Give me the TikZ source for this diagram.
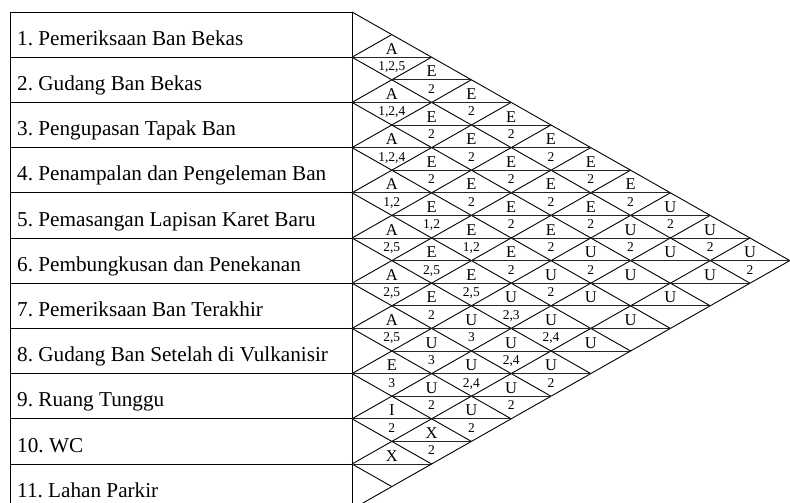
\documentclass[tikz,border=0pt]{standalone}
\usepackage{fontspec}
\setmainfont{Liberation Serif}
\frenchspacing
\newcommand\arcXL{352}
\newcommand\arcYT{12}
\newcommand\arcRH{45.2}
\newcommand\arcRD{39.8}
\newcommand\arcpair[4]{%
  \node[relletter] (L#1-#2) at ({\arcXL+(#2-#1)*\arcRD}, {\arcYT+(#1+#2-1)*\arcRH/2-3}) {#3};
  \node[relnum] (N#1-#2) at ({\arcXL+(#2-#1)*\arcRD}, {\arcYT+(#1+#2-1)*\arcRH/2+13.5}) {#4};}
\begin{document}
\begin{tikzpicture}[x=1pt,y=-1pt,
  lbl/.style={anchor=base west, font=\fontsize{21.2}{24}\selectfont\frenchspacing, inner sep=0pt},
  relletter/.style={anchor=base, font=\fontsize{16.5}{18}\selectfont, inner sep=0pt},
  relnum/.style={anchor=base, font=\fontsize{13.5}{15}\selectfont, inner sep=0pt},
  frame/.style={line width=0.9pt},
  diag/.style={line width=0.9pt},
  midline/.style={line width=0.75pt, black!85}]
\useasboundingbox (0,0) rectangle (790,503);
\clip (0,0) rectangle (790,503);
% table
\draw[frame] (10,\arcYT) rectangle (\arcXL,{\arcYT+11*\arcRH});
\foreach \m in {1,...,10} \draw[frame] (10,{\arcYT+\m*\arcRH}) -- (\arcXL,{\arcYT+\m*\arcRH});
% labels
\foreach \m/\t in {1/{1. Pemeriksaan Ban Bekas},2/{2. Gudang Ban Bekas},3/{3. Pengupasan Tapak Ban},4/{4. Penampalan dan Pengeleman Ban},5/{5. Pemasangan Lapisan Karet Baru},6/{6. Pembungkusan dan Penekanan},7/{7. Pemeriksaan Ban Terakhir},8/{8. Gudang Ban Setelah di Vulkanisir},9/{9. Ruang Tunggu},10/{10. WC},11/{11. Lahan Parkir}}
  \node[lbl] (lab\m) at (17,{\arcYT+\m*\arcRH-12}) {\t};
% diagonals
\foreach \m in {0,...,10}
  \draw[diag] (\arcXL,{\arcYT+\m*\arcRH}) -- ++({(11-\m)*\arcRD},{(11-\m)*\arcRH/2});
\foreach \m in {1,...,11}
  \draw[diag] (\arcXL,{\arcYT+\m*\arcRH}) -- ++({\m*\arcRD},{-\m*\arcRH/2});
% mid lines
\foreach \i in {1,...,10}{
  \pgfmathtruncatemacro\jmin{\i+1}
  \foreach \j in {\jmin,...,11}
    \draw[midline] ({\arcXL+(\j-\i-1)*\arcRD},{\arcYT+(\i+\j-1)*\arcRH/2}) -- ++({2*\arcRD},0);
}
% relationships
\arcpair{1}{2}{A}{1,2,5}
\arcpair{1}{3}{E}{2}
\arcpair{1}{4}{E}{2}
\arcpair{1}{5}{E}{2}
\arcpair{1}{6}{E}{2}
\arcpair{1}{7}{E}{2}
\arcpair{1}{8}{E}{2}
\arcpair{1}{9}{U}{2}
\arcpair{1}{10}{U}{2}
\arcpair{1}{11}{U}{2}
\arcpair{2}{3}{A}{1,2,4}
\arcpair{2}{4}{E}{2}
\arcpair{2}{5}{E}{2}
\arcpair{2}{6}{E}{2}
\arcpair{2}{7}{E}{2}
\arcpair{2}{8}{E}{2}
\arcpair{2}{9}{U}{2}
\arcpair{2}{10}{U}{}
\arcpair{2}{11}{U}{}
\arcpair{3}{4}{A}{1,2,4}
\arcpair{3}{5}{E}{2}
\arcpair{3}{6}{E}{2}
\arcpair{3}{7}{E}{2}
\arcpair{3}{8}{E}{2}
\arcpair{3}{9}{U}{2}
\arcpair{3}{10}{U}{}
\arcpair{3}{11}{U}{}
\arcpair{4}{5}{A}{1,2}
\arcpair{4}{6}{E}{1,2}
\arcpair{4}{7}{E}{1,2}
\arcpair{4}{8}{E}{2}
\arcpair{4}{9}{U}{2}
\arcpair{4}{10}{U}{}
\arcpair{4}{11}{U}{}
\arcpair{5}{6}{A}{2,5}
\arcpair{5}{7}{E}{2,5}
\arcpair{5}{8}{E}{2,5}
\arcpair{5}{9}{U}{2,3}
\arcpair{5}{10}{U}{2,4}
\arcpair{5}{11}{U}{}
\arcpair{6}{7}{A}{2,5}
\arcpair{6}{8}{E}{2}
\arcpair{6}{9}{U}{3}
\arcpair{6}{10}{U}{2,4}
\arcpair{6}{11}{U}{2}
\arcpair{7}{8}{A}{2,5}
\arcpair{7}{9}{U}{3}
\arcpair{7}{10}{U}{2,4}
\arcpair{7}{11}{U}{2}
\arcpair{8}{9}{E}{3}
\arcpair{8}{10}{U}{2}
\arcpair{8}{11}{U}{2}
\arcpair{9}{10}{I}{2}
\arcpair{9}{11}{X}{2}
\arcpair{10}{11}{X}{}
\end{tikzpicture}
\end{document}
